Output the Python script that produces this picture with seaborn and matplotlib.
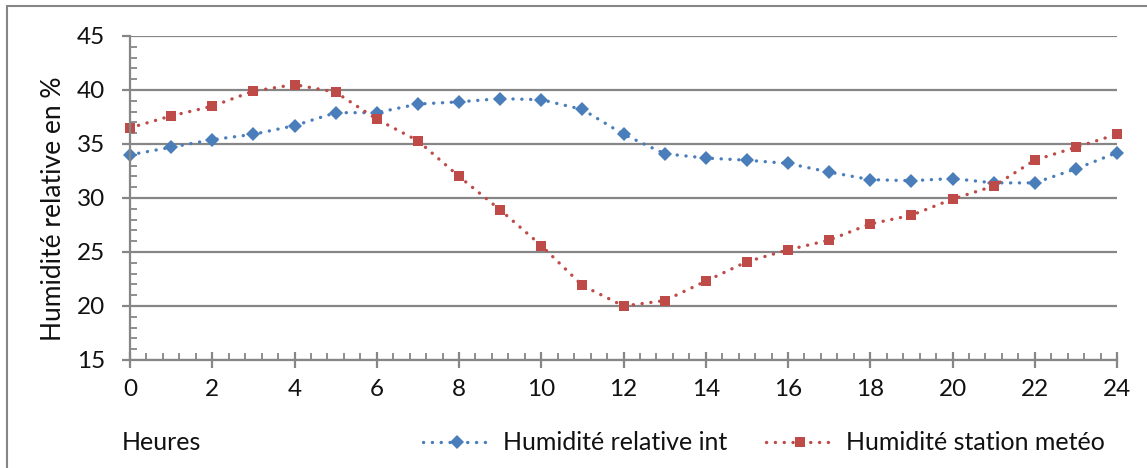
import numpy as np
import pandas as pd
import matplotlib
matplotlib.use("Agg")
import matplotlib.pyplot as plt
from matplotlib.patches import Rectangle
from matplotlib.ticker import MultipleLocator
import seaborn as sns

# Données
heures = list(range(25))
humidite_int = [34.0, 34.7, 35.4, 35.9, 36.7, 37.9, 37.9, 38.7, 38.9, 39.2, 39.1, 38.2, 35.9,
                34.1, 33.7, 33.5, 33.2, 32.4, 31.7, 31.6, 31.8, 31.4, 31.4, 32.7, 34.2]
humidite_meteo = [36.5, 37.6, 38.5, 39.9, 40.5, 39.8, 37.3, 35.3, 32.0, 28.9, 25.6, 21.9, 20.0,
                  20.5, 22.3, 24.1, 25.2, 26.1, 27.6, 28.4, 29.9, 31.1, 33.5, 34.7, 35.9]
nom_int = "Humidité relative int"
nom_meteo = "Humidité station metéo"

BLEU = "#4A7EBB"
ROUGE = "#BE4B48"
GRIS = "#868686"
TEXTE = "#111111"
TAILLE = 17.5

sns.set_theme(style="white")
plt.rcParams['font.family'] = ['Lato', 'DejaVu Sans']

fig = plt.figure(figsize=(11.47, 4.68), dpi=100)
ax = fig.add_axes([130 / 1147, 1 - 360 / 468, (1117 - 130) / 1147, (360 - 36) / 468])

# cadre du graphique
fig.patches.append(Rectangle((7 / 1147, -0.1), 1.2, 1 - 6 / 468 + 0.1, transform=fig.transFigure,
                             fill=False, edgecolor=GRIS, lw=1.5, zorder=0))

style = dict(linestyle=(0, (0.05, 2.6)), dash_capstyle='round', lw=2.4,
             markeredgewidth=0, clip_on=False)
sns.lineplot(x=heures, y=humidite_int, color=BLEU, marker='D', markersize=7.5,
             label=nom_int, ax=ax, **style)
sns.lineplot(x=heures, y=humidite_meteo, color=ROUGE, marker='s', markersize=7.5,
             label=nom_meteo, ax=ax, **style)

ax.set_xlim(0, 24)
ax.set_ylim(15, 45)
ax.xaxis.set_major_locator(MultipleLocator(2))
ax.xaxis.set_minor_locator(MultipleLocator(0.4))
ax.yaxis.set_major_locator(MultipleLocator(5))
ax.yaxis.set_minor_locator(MultipleLocator(1))

ax.grid(axis='y', which='major', color=GRIS, lw=1.6)
ax.grid(axis='x', visible=False)
ax.set_axisbelow(True)

for s in ['top', 'right']:
    ax.spines[s].set_visible(False)
for s in ['left', 'bottom']:
    ax.spines[s].set_color(GRIS)
    ax.spines[s].set_linewidth(1.6)

ax.tick_params(axis='y', which='major', direction='out', length=6, width=1.6, color=GRIS,
               left=True, labelsize=TAILLE, pad=12)
ax.tick_params(axis='y', which='minor', direction='in', length=5, width=1.3, color=GRIS, left=True)
ax.tick_params(axis='x', which='major', direction='inout', length=12, width=1.6, color=GRIS,
               bottom=True, labelsize=TAILLE, pad=8)
ax.tick_params(axis='x', which='minor', direction='in', length=5, width=1.3, color=GRIS, bottom=True)
for lab in ax.get_xticklabels() + ax.get_yticklabels():
    lab.set_color(TEXTE)

ax.set_xlabel("")
ax.set_ylabel("Humidité relative en %", fontsize=19, color=TEXTE)
ax.yaxis.set_label_coords(-0.065, 0.466)

fig.text(122 / 1147, 1 - 442 / 468, "Heures", fontsize=18, color=TEXTE, va='center')

handles, labels = ax.get_legend_handles_labels()
ax.get_legend().remove()
fig.legend(handles, labels, loc='center left', bbox_to_anchor=(423 / 1147, 1 - 443 / 468),
           ncol=2, frameon=False, fontsize=18, handlelength=2.75, handletextpad=0.45,
           columnspacing=1.55, borderpad=0, borderaxespad=0, labelcolor=TEXTE, markerscale=0.9)

fig.savefig("out.png", dpi=100, facecolor="white")
